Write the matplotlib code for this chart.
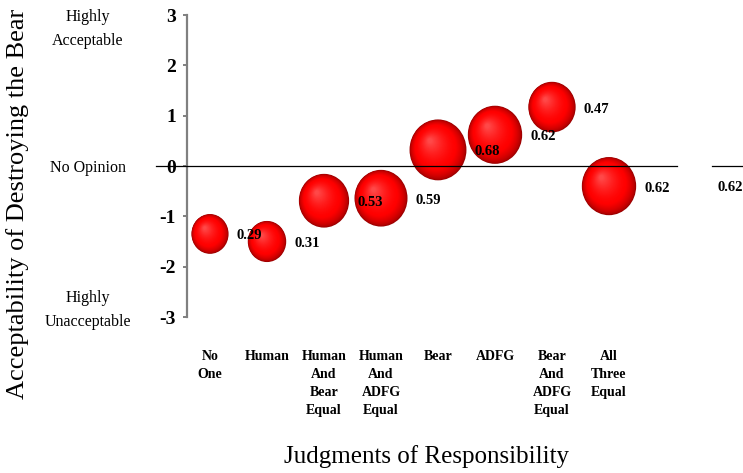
import numpy as np
import matplotlib
matplotlib.use("Agg")
import matplotlib.pyplot as plt
from matplotlib.patches import Ellipse
from matplotlib.colors import to_rgb

plt.rcParams['font.family'] = ['Liberation Serif', 'DejaVu Serif']
plt.rcParams['axes.unicode_minus'] = False

# Datos
categories = ["No\nOne", "Human", "Human\nAnd\nBear\nEqual", "Human\nAnd\nADFG\nEqual",
              "Bear", "ADFG", "Bear\nAnd\nADFG\nEqual", "All\nThree\nEqual"]
acceptability = [-1.35, -1.50, -0.69, -0.64, 0.32, 0.62, 1.17, -0.40]
bubble_size = [0.29, 0.31, 0.53, 0.59, 0.68, 0.62, 0.47, 0.62]
yticks = [3, 2, 1, 0, -1, -2, -3]

W, H = 743, 473
fig = plt.figure(figsize=(W / 100, H / 100), dpi=100)

# Ejes colocados en pixeles
ax_l, ax_r, ax_t, ax_b = 187, 677, 15, 317
ax = fig.add_axes([ax_l / W, 1 - ax_b / H, (ax_r - ax_l) / W, (ax_b - ax_t) / H])

x = np.arange(1, len(categories) + 1)
px_x = 57.0                      # pixeles por categoria
px_y = (ax_b - ax_t) / 6.0       # pixeles por unidad en y
x0 = 1 + (ax_l - 210) / px_x
ax.set_xlim(x0, x0 + (ax_r - ax_l) / px_x)
ax.set_ylim(-3, 3)

# Burbujas con degradado radial
dark = np.array(to_rgb("#9a0000"))
red = np.array(to_rgb("#ff0000"))
light = np.array(to_rgb("#ff4848"))
n = 40
for xi, yi, s in zip(x, acceptability, bubble_size):
    rw = 34.5 * np.sqrt(s)
    rh = rw * 1.07
    for i in range(n):
        t = i / (n - 1)
        scale = 1 - 0.92 * t
        dx = -0.28 * rw * t
        dy = 0.30 * rh * t
        if t < 0.3:
            c = dark + (red - dark) * (t / 0.3) ** 0.6
        else:
            c = red + (light - red) * ((t - 0.3) / 0.7) ** 1.5
        e = Ellipse((xi + dx / px_x, yi + dy / px_y),
                    2 * rw * scale / px_x, 2 * rh * scale / px_y,
                    facecolor=c, edgecolor='none', zorder=2 + i * 0.001)
        ax.add_patch(e)
    ax.text(xi + (rw + 8) / px_x, yi - 2 / px_y, f"{s:.2f}", fontsize=10.5,
            fontweight='bold', ha='left', va='center', zorder=5)

# Linea del cero
ax.plot([1 + (156 - 210) / px_x, ax.get_xlim()[1]], [0, 0], color='black',
        lw=0.9, clip_on=False, zorder=4)

# Ejes
for side in ['top', 'right', 'bottom']:
    ax.spines[side].set_visible(False)
ax.spines['left'].set_color('#808080')
ax.spines['left'].set_linewidth(1.6)
ax.set_yticks(yticks)
ax.set_yticklabels([str(v) for v in yticks], fontsize=14, fontweight='bold')
ax.tick_params(axis='y', direction='out', length=3, width=1.4, color='#808080', pad=5)
ax.set_xticks(x)
ax.set_xticklabels(categories, fontsize=10, fontweight='bold', linespacing=1.5)
ax.tick_params(axis='x', length=0, pad=24)
ax.patch.set_visible(False)

# Textos laterales
fig.text(88 / W, 1 - 29 / H, "Highly\nAcceptable", fontsize=11.5, ha='center',
         va='center', linespacing=1.6)
fig.text(88 / W, 1 - 168 / H, "No Opinion", fontsize=11.5, ha='center', va='center')
fig.text(88 / W, 1 - 310 / H, "Highly\nUnacceptable", fontsize=11.5, ha='center',
         va='center', linespacing=1.6)

fig.text(18 / W, 1 - 204 / H, "Acceptability of Destroying the Bear", fontsize=19,
         rotation=90, ha='center', va='center')
fig.text(427 / W, 1 - 457 / H, "Judgments of Responsibility", fontsize=18,
         ha='center', va='center')

# Resto de leyenda a la derecha
fig.add_artist(plt.Line2D([712 / W, 1.0], [1 - 166 / H, 1 - 166 / H],
                          color='black', lw=0.9))
fig.text(717 / W, 1 - 187 / H, "0.62", fontsize=10.5, fontweight='bold',
         ha='left', va='center')

fig.savefig("out.png", dpi=100)
